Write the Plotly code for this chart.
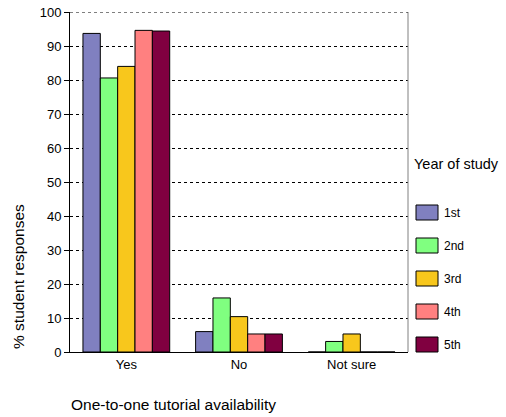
import plotly.graph_objects as go

categories = ["Yes", "No", "Not sure"]
years = ["1st", "2nd", "3rd", "4th", "5th"]
values = {
    "1st": [93.7, 6.0, 0.0],
    "2nd": [80.6, 15.9, 3.1],
    "3rd": [84.0, 10.4, 5.3],
    "4th": [94.6, 5.3, 0.0],
    "5th": [94.4, 5.3, 0.0],
}
colors = ["#8080C0", "#80FF80", "#F8C71C", "#FF8080", "#800040"]
y_ticks = list(range(0, 101, 10))

fig = go.Figure()
for yr, col in zip(years, colors):
    fig.add_trace(go.Bar(
        x=categories, y=values[yr], name=yr, showlegend=False,
        marker=dict(color=col, line=dict(color="black", width=1)),
    ))

font = "Liberation Sans, Arial, sans-serif"

# plot area in window pixels: x 70..408, y 12..352
def px(wx):
    return (wx - 70) / 338.0

def py(wy):
    return (352 - wy) / 340.0

shapes = [
    dict(type="line", xref="paper", yref="paper", x0=1, x1=1, y0=0, y1=1,
         line=dict(color="#808080", width=1)),
    dict(type="line", xref="paper", yref="y", x0=0, x1=1, y0=y_ticks[-1], y1=y_ticks[-1],
         line=dict(color="black", width=1, dash="3px,3px")),
]
annotations = [
    dict(text="% student responses", xref="paper", yref="paper",
         x=px(18), y=py(277), textangle=-90, showarrow=False,
         xanchor="center", yanchor="middle", font=dict(size=15.5)),
    dict(text="One-to-one tutorial availability", xref="paper", yref="paper",
         x=px(69), y=py(405), showarrow=False, xanchor="left", yanchor="middle",
         font=dict(size=15.5)),
    dict(text="Year of study", xref="paper", yref="paper",
         x=px(412), y=py(164), showarrow=False, xanchor="left", yanchor="middle",
         font=dict(size=14.5)),
]
for i, (yr, col) in enumerate(zip(years, colors)):
    c = 212.5 + 33 * i
    shapes.append(dict(type="rect", xref="paper", yref="paper",
                       x0=px(416), x1=px(438), y0=py(c + 7.5), y1=py(c - 7.5),
                       fillcolor=col, line=dict(color="black", width=1)))
    annotations.append(dict(text=yr, xref="paper", yref="paper",
                            x=px(442), y=py(c), showarrow=False,
                            xanchor="left", yanchor="middle", font=dict(size=12)))

fig.update_layout(
    width=506, height=417,
    margin=dict(l=70, r=98, t=12, b=65, autoexpand=False),
    paper_bgcolor="white", plot_bgcolor="white",
    barmode="group", bargap=0.23, bargroupgap=0,
    font=dict(family=font, size=13, color="black"),
    showlegend=False,
    xaxis=dict(showline=True, linecolor="black", linewidth=1,
               tickfont=dict(size=13), ticks="", automargin=False),
    yaxis=dict(range=[0, 100], tickvals=y_ticks, showgrid=True,
               gridcolor="black", griddash="3px,3px", gridwidth=1,
               showline=True, linecolor="black", linewidth=1,
               ticks="outside", ticklen=5, tickcolor="black",
               tickfont=dict(size=13), zeroline=False,
               ticklabeloverflow="allow", automargin=False),
    shapes=shapes,
    annotations=annotations,
)
fig.write_html("out.html", config={"displayModeBar": False},
               post_script="document.body.style.margin='0';")
